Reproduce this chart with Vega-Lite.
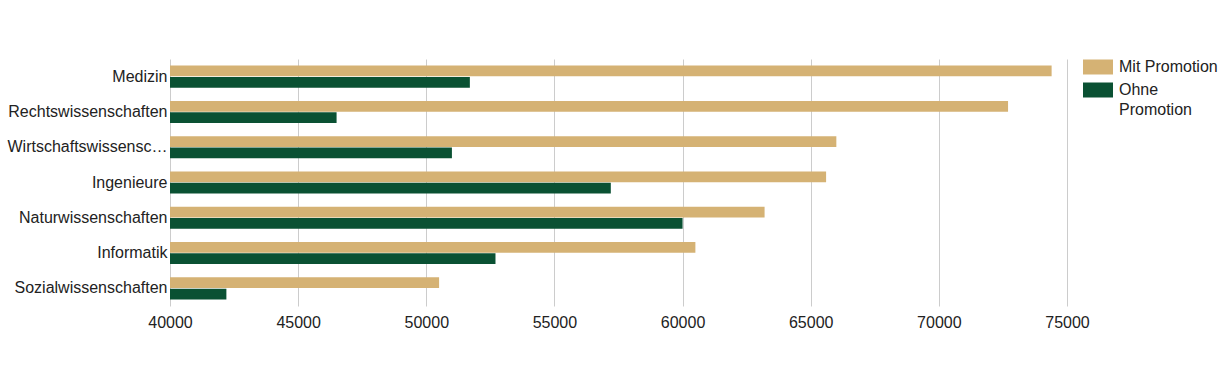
{
  "$schema": "https://vega.github.io/schema/vega-lite/v6.json",
  "autosize": "none",
  "width": 897,
  "height": 247,
  "padding": {"left": 170, "top": 59, "right": 159, "bottom": 75},
  "background": "white",
  "data": {
    "values": [
      {"fach": "Medizin", "gruppe": "Mit Promotion", "gehalt": 74400},
      {"fach": "Medizin", "gruppe": "Ohne Promotion", "gehalt": 51700},
      {"fach": "Rechtswissenschaften", "gruppe": "Mit Promotion", "gehalt": 72700},
      {"fach": "Rechtswissenschaften", "gruppe": "Ohne Promotion", "gehalt": 46500},
      {"fach": "Wirtschaftswissenschaften", "gruppe": "Mit Promotion", "gehalt": 66000},
      {"fach": "Wirtschaftswissenschaften", "gruppe": "Ohne Promotion", "gehalt": 51000},
      {"fach": "Ingenieure", "gruppe": "Mit Promotion", "gehalt": 65600},
      {"fach": "Ingenieure", "gruppe": "Ohne Promotion", "gehalt": 57200},
      {"fach": "Naturwissenschaften", "gruppe": "Mit Promotion", "gehalt": 63200},
      {"fach": "Naturwissenschaften", "gruppe": "Ohne Promotion", "gehalt": 60000},
      {"fach": "Informatik", "gruppe": "Mit Promotion", "gehalt": 60500},
      {"fach": "Informatik", "gruppe": "Ohne Promotion", "gehalt": 52700},
      {"fach": "Sozialwissenschaften", "gruppe": "Mit Promotion", "gehalt": 50500},
      {"fach": "Sozialwissenschaften", "gruppe": "Ohne Promotion", "gehalt": 42200}
    ]
  },
  "mark": {"type": "bar", "clip": true},
  "encoding": {
    "y": {
      "field": "fach",
      "type": "nominal",
      "sort": null,
      "scale": {"paddingInner": 0.375, "paddingOuter": 0.1875},
      "axis": {
        "title": null,
        "ticks": false,
        "domain": false,
        "grid": false,
        "labelPadding": 3,
        "labelLimit": 163,
        "labelFont": "Liberation Sans",
        "labelFontSize": 16,
        "labelColor": "#222222"
      }
    },
    "yOffset": {
      "field": "gruppe",
      "type": "nominal",
      "sort": ["Mit Promotion", "Ohne Promotion"],
      "scale": {"paddingInner": 0.05}
    },
    "x": {
      "field": "gehalt",
      "type": "quantitative",
      "scale": {"domain": [40000, 75000], "zero": false, "nice": false},
      "axis": {
        "title": null,
        "values": [40000, 45000, 50000, 55000, 60000, 65000, 70000, 75000],
        "format": "d",
        "ticks": false,
        "domain": false,
        "grid": true,
        "gridColor": "#cccccc",
        "gridWidth": 1,
        "labelPadding": 8,
        "labelFont": "Liberation Sans",
        "labelFontSize": 16,
        "labelColor": "#222222",
        "labelFlush": false
      }
    },
    "color": {
      "field": "gruppe",
      "type": "nominal",
      "scale": {"domain": ["Mit Promotion", "Ohne Promotion"], "range": ["#d5b274", "#0a5133"]},
      "legend": {
        "title": null,
        "orient": "none",
        "legendX": 913,
        "legendY": -7,
        "padding": 0,
        "symbolType": "M-1,-0.5H1V0.5H-1Z",
        "symbolSize": 900,
        "symbolStrokeWidth": 0,
        "symbolOpacity": 1,
        "labelOffset": 6,
        "rowPadding": 0,
        "labelFont": "Liberation Sans",
        "labelFontSize": 16,
        "labelColor": "#222222",
        "labelBaseline": "top",
        "labelExpr": "datum.label == 'Ohne Promotion' ? ['Ohne', 'Promotion'] : datum.label",
        "encode": {"labels": {"update": {"dy": {"value": -8}, "lineHeight": {"value": 20}}}}
      }
    }
  },
  "config": {"view": {"stroke": null}}
}
